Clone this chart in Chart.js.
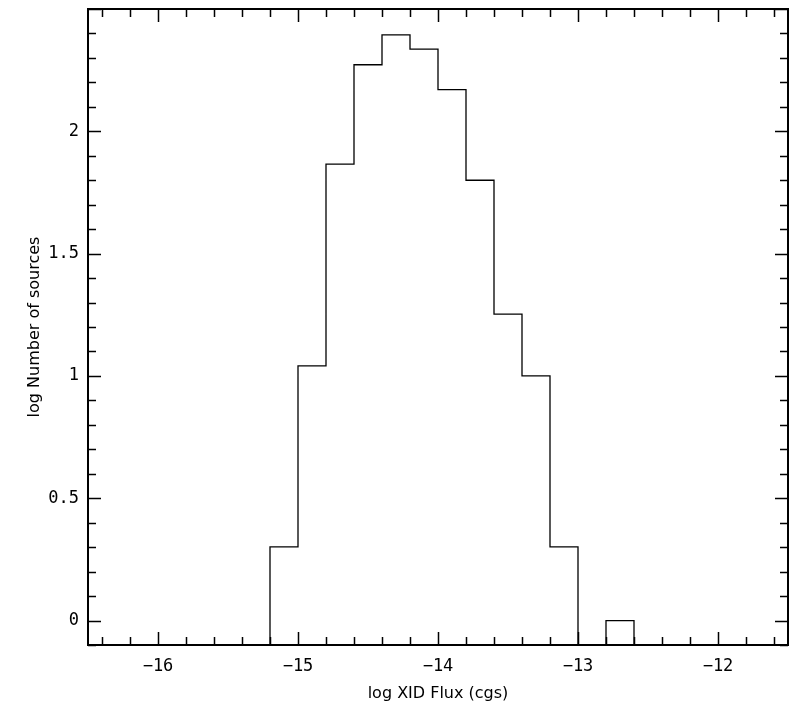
<!DOCTYPE html>
<html>
<head>
<meta charset="utf-8">
<script src="https://cdn.jsdelivr.net/npm/chart.js@4/dist/chart.umd.min.js"></script>
<style>
  html, body { margin: 0; padding: 0; background: #fff; }
  #wrap { width: 802px; height: 703px; }
</style>
</head>
<body>
<div id="wrap"><canvas id="hist" width="802" height="703"></canvas></div>
<script>
// histogram bins: right edges and log10(number of sources); null = empty bin
var binLeft = -15.2;
var binRight = [-15.0, -14.8, -14.6, -14.4, -14.2, -14.0, -13.8, -13.6, -13.4, -13.2, -13.0, -12.8, -12.6];
var logCounts = [0.301, 1.041, 1.866, 2.272, 2.394, 2.336, 2.170, 1.800, 1.253, 1.0, 0.301, null, 0.0];

var xTicks = [-16, -15, -14, -13, -12];
var yTicks = [0, 0.5, 1, 1.5, 2];

var FLOOR = -1; // empty bins drop below the axis
var TICK_FONT = { family: "'DejaVu Sans Mono', monospace", size: 17 };
var TITLE_FONT = { family: "'DejaVu Sans', Verdana, sans-serif", size: 16 };

var points = [{ x: binLeft, y: FLOOR }];
for (var i = 0; i < binRight.length; i++) {
  points.push({ x: binRight[i], y: logCounts[i] === null ? FLOOR : logCounts[i] });
}
points.push({ x: binRight[binRight.length - 1], y: FLOOR });

function minus(v) {
  return v < 0 ? "\u2212" + Math.abs(v) : String(v);
}

// inward ticks on all four sides + frame
var frameTicks = {
  id: "frameTicks",
  afterDraw: function (chart) {
    var ctx = chart.ctx, a = chart.chartArea;
    var xs = chart.scales.x, ys = chart.scales.y;
    ctx.save();
    ctx.strokeStyle = "#000";
    ctx.lineWidth = 1.5;
    var k, p, major;
    for (k = -82; k <= -58; k++) {
      var xv = k / 5;
      if (xv < xs.min || xv > xs.max) continue;
      p = Math.round(xs.getPixelForValue(xv)) + 0.5;
      major = k % 5 === 0;
      var L = major ? 13 : 8;
      ctx.beginPath();
      ctx.moveTo(p, a.bottom); ctx.lineTo(p, a.bottom - L);
      ctx.moveTo(p, a.top); ctx.lineTo(p, a.top + L);
      ctx.stroke();
    }
    for (k = -1; k <= 25; k++) {
      var yv = k / 10;
      if (yv < ys.min || yv > ys.max) continue;
      p = Math.round(ys.getPixelForValue(yv)) + 0.5;
      major = k % 5 === 0;
      var M = major ? 13 : 8;
      ctx.beginPath();
      ctx.moveTo(a.left, p); ctx.lineTo(a.left + M, p);
      ctx.moveTo(a.right, p); ctx.lineTo(a.right - M, p);
      ctx.stroke();
    }
    ctx.lineWidth = 2;
    ctx.strokeRect(a.left, a.top, a.right - a.left, a.bottom - a.top);
    ctx.restore();
  }
};

new Chart(document.getElementById("hist"), {
  type: "line",
  data: {
    datasets: [{
      data: points,
      stepped: "after",
      borderColor: "#000",
      borderWidth: 1.3,
      pointRadius: 0,
      fill: false,
    }],
  },
  options: {
    responsive: false,
    animation: false,
    layout: { padding: { top: 9, right: 14, left: 0, bottom: 0 } },
    plugins: { legend: { display: false }, tooltip: { enabled: false } },
    scales: {
      x: {
        type: "linear",
        min: -16.5,
        max: -11.5,
        afterBuildTicks: function (s) { s.ticks = xTicks.map(function (v) { return { value: v }; }); },
        afterFit: function (s) { s.height = 58; s.paddingLeft = 0; s.paddingRight = 0; },
        grid: { display: false, drawTicks: false },
        border: { display: false },
        ticks: { font: TICK_FONT, color: "#000", padding: 11, maxRotation: 0, callback: minus },
        title: { display: true, text: "log XID Flux (cgs)", font: TITLE_FONT, color: "#000", padding: { top: 1, bottom: 0 } },
      },
      y: {
        type: "linear",
        min: -0.1,
        max: 2.5,
        afterBuildTicks: function (s) { s.ticks = yTicks.map(function (v) { return { value: v }; }); },
        afterFit: function (s) { s.width = 88; s.paddingTop = 0; s.paddingBottom = 0; },
        grid: { display: false, drawTicks: false },
        border: { display: false },
        ticks: { font: TICK_FONT, color: "#000", padding: 9, callback: minus },
        title: { display: true, text: "log Number of sources", font: TITLE_FONT, color: "#000", padding: { top: 25, bottom: 0 } },
      },
    },
  },
  plugins: [frameTicks],
});
</script>
</body>
</html>
